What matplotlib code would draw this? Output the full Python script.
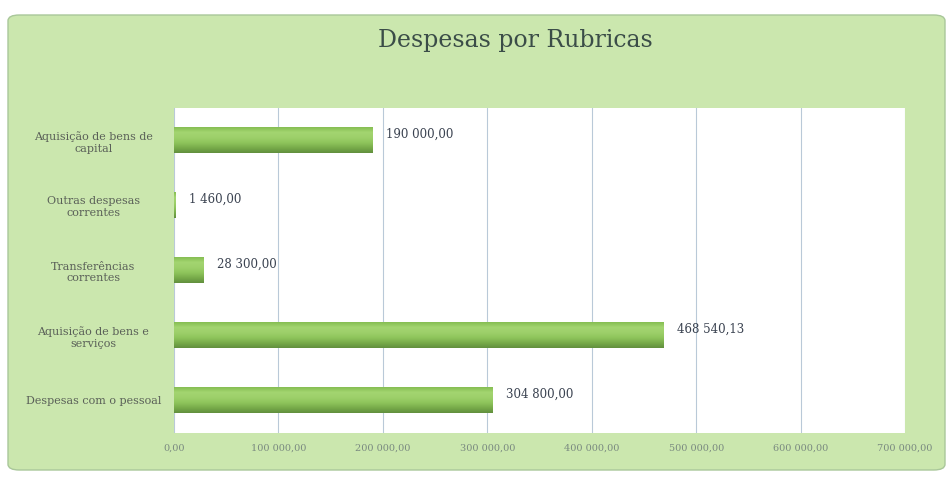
import matplotlib
matplotlib.use("Agg")
import matplotlib.pyplot as plt
from matplotlib.patches import FancyBboxPatch
from matplotlib.colors import LinearSegmentedColormap
import numpy as np

categories = ["Despesas com o pessoal", "Aquisição de bens e\nserviços",
              "Transferências\ncorrentes", "Outras despesas\ncorrentes",
              "Aquisição de bens de\ncapital"]
values = [304800.00, 468540.13, 28300.00, 1460.00, 190000.00]
value_labels = ["304 800,00", "468 540,13", "28 300,00", "1 460,00", "190 000,00"]
xticks = [0, 100000, 200000, 300000, 400000, 500000, 600000, 700000]
xtick_labels = ["0,00", "100 000,00", "200 000,00", "300 000,00", "400 000,00",
                "500 000,00", "600 000,00", "700 000,00"]
title = "Despesas por Rubricas"

FONT = "DejaVu Serif"
W, H = 950, 478
fig = plt.figure(figsize=(W/100, H/100), dpi=100)
fig.patch.set_facecolor("white")

panel = FancyBboxPatch((8/W, 8/H), 937/W, 455/H,
                       boxstyle="round,pad=0,rounding_size=0.012",
                       transform=fig.transFigure, facecolor="#cbe7ae",
                       edgecolor="#a9c79a", linewidth=1.0, zorder=-5)
fig.patches.append(panel)

ax = fig.add_axes([174/W, 1-433/H, (905-174)/W, (433-108)/H])
ax.set_zorder(2)
ax.set_facecolor("white")

y = np.arange(len(categories))
bh = 0.40
grad = np.linspace(0, 1, 64).reshape(-1, 1)
# row 0 is drawn at the top of each bar
cmap = LinearSegmentedColormap.from_list(
    "g", ["#86be52", "#a3d571", "#9dd06a", "#8fc55c", "#78ac4a", "#62903e"])
for yi, v in zip(y, values):
    ax.imshow(grad, aspect="auto", cmap=cmap,
              extent=(0, v, yi - bh/2, yi + bh/2), zorder=2, interpolation="bilinear")
ax.set_xlim(0, 700000)
ax.set_ylim(-0.5, 4.5)

for yi, v, lab in zip(y, values, value_labels):
    ax.text(v + 13000, yi + 0.09, lab, va="center", ha="left", fontsize=8.5,
            family=FONT, color="#3a4250", zorder=4)

ax.set_yticks(y)
ax.set_yticklabels(categories, fontsize=8, family=FONT, color="#5a6058",
                   ha="center", linespacing=1.2)
ax.tick_params(axis="y", length=0, pad=58)
ax.set_xticks(xticks)
ax.set_xticklabels(xtick_labels, fontsize=7, family=FONT, color="#7a8a80")
ax.tick_params(axis="x", length=0, pad=8)
ax.grid(axis="x", color="#b9c9d8", linewidth=0.8, zorder=1)
ax.set_axisbelow(True)
for s in ax.spines.values():
    s.set_visible(False)

fig.text(515/W, 1-40/H, title, ha="center", va="center", fontsize=17,
         family=FONT, color="#3b4d48")

fig.savefig("out.png", dpi=100, facecolor=fig.get_facecolor())
